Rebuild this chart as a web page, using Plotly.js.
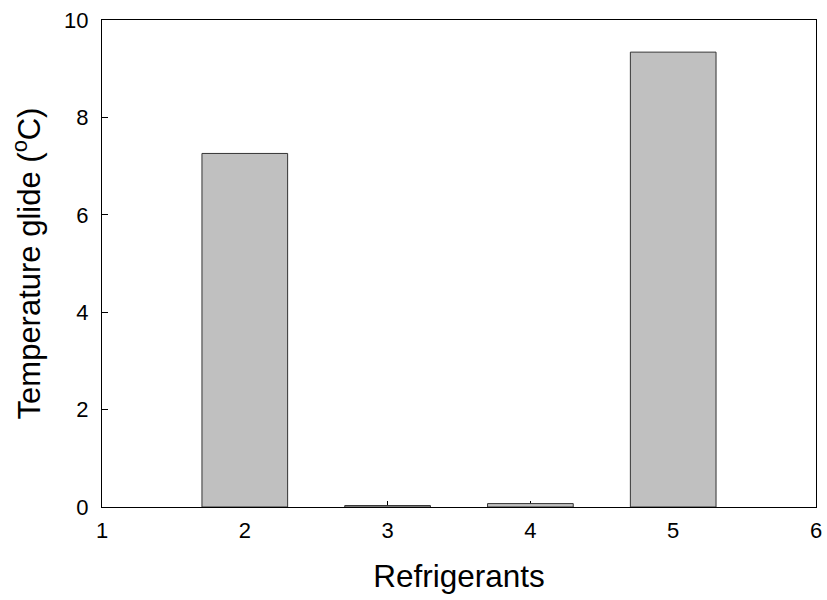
<!DOCTYPE html>
<html>
<head>
<meta charset="utf-8">
<script src="https://cdn.plot.ly/plotly-3.0.1.min.js"></script>
<style>html,body{margin:0;padding:0;background:#fff;}#chart{width:827px;height:600px;}</style>
</head>
<body>
<div id="chart"></div>
<script>
const refrigerants = [2, 3, 4, 5];
const glide = [7.26, 0.03, 0.07, 9.34];
const xTicks = [1, 2, 3, 4, 5, 6];
const yTicks = [0, 2, 4, 6, 8, 10];

const trace = {
  type: 'bar',
  x: refrigerants,
  y: glide,
  width: 0.6,
  marker: {color: '#c0c0c0', line: {color: '#333333', width: 1}},
  hoverinfo: 'x+y'
};

const FAM = 'Arial, Liberation Sans, sans-serif';
const axisFont = {family: FAM, size: 22, color: '#000'};
const layout = {
  width: 827, height: 600,
  margin: {l: 102, r: 11, t: 20, b: 93},
  paper_bgcolor: '#fff', plot_bgcolor: '#fff',
  showlegend: false,
  font: {family: FAM, color: '#000'},
  xaxis: {
    range: [1, 6], tickvals: xTicks, ticktext: xTicks.map(String),
    ticks: 'inside', ticklen: 6, tickcolor: '#000', tickwidth: 1,
    showline: true, linecolor: '#000', linewidth: 1, mirror: true,
    showgrid: false, zeroline: false, layer: 'below traces',
    tickfont: axisFont, ticklabelstandoff: 4,
    title: {text: 'Refrigerants', font: {family: FAM, size: 31.5, color: '#000'}, standoff: 22}
  },
  yaxis: {
    range: [0, 10], tickvals: yTicks, ticktext: yTicks.map(String),
    ticks: 'inside', ticklen: 6, tickcolor: '#000', tickwidth: 1,
    showline: true, linecolor: '#000', linewidth: 1, mirror: true,
    showgrid: false, zeroline: false, layer: 'below traces',
    tickfont: axisFont, ticklabelstandoff: 8,
    title: {text: 'Temperature glide (<sup>o</sup>C)', font: {family: FAM, size: 31, color: '#000'}, standoff: 14}
  }
};

Plotly.newPlot('chart', [trace], layout, {displayModeBar: false, staticPlot: true});
</script>
</body>
</html>
